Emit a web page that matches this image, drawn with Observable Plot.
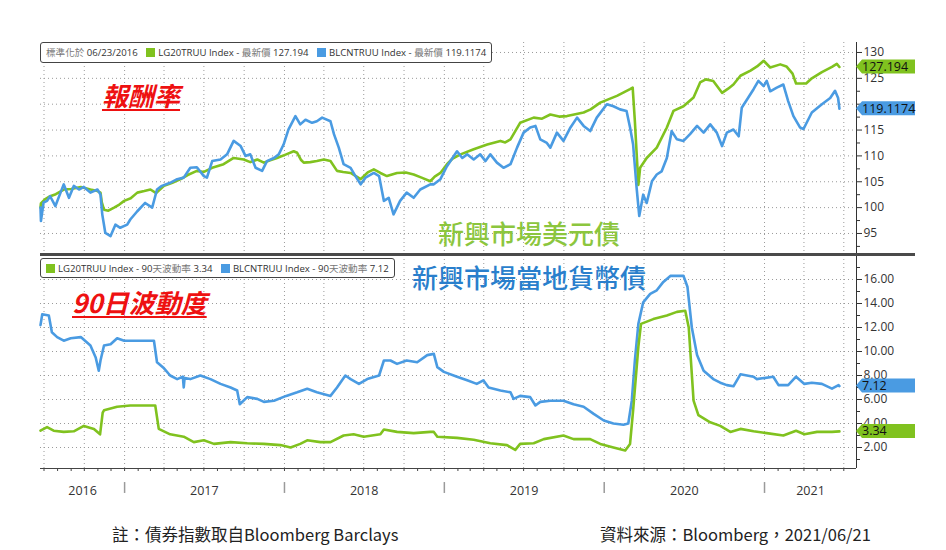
<!DOCTYPE html>
<html><head><meta charset="utf-8">
<script src="https://cdn.jsdelivr.net/npm/d3@7"></script>
<script src="https://cdn.jsdelivr.net/npm/@observablehq/plot@0.6"></script>
<style>
body{margin:0;background:#fff;}
#wrap{position:relative;width:946px;height:550px;overflow:hidden;background:#fff;font-family:"Open Sans",sans-serif;}
#wrap svg{position:absolute;left:0;}
.legend{position:absolute;background:#fff;border:1px solid #444;border-radius:3px;font-family:"Open Sans","Noto Sans CJK TC",sans-serif;font-size:9.6px;color:#333;white-space:nowrap;padding:0 5px;box-sizing:border-box;line-height:19px;z-index:3}
.sq{display:inline-block;width:9px;height:9px;margin:0 3px 0 6px;vertical-align:-1px}
.cjk{font-family:"Noto Sans CJK TC";color:#777}
.anno{position:absolute;white-space:nowrap;font-family:"Noto Sans CJK TC",sans-serif;line-height:1;z-index:2}
.red{color:#ee1111;font-style:italic;font-weight:bold;font-size:26px;text-decoration:underline;text-decoration-thickness:2px;text-underline-offset:3px}
.foot{position:absolute;white-space:nowrap;font-family:"Noto Sans CJK TC","Open Sans",sans-serif;font-size:16.5px;color:#222;line-height:20px}
#sep{position:absolute;left:40px;top:253px;width:875px;height:3px;background:#4a4a4a;z-index:4}
</style></head>
<body><div id="wrap">
<div class="legend" style="left:40px;top:42px;height:21px;"><span class="cjk">標準化於</span> 06/23/2016 <span class="sq" style="background:#80c21f"></span>LG20TRUU Index - <span class="cjk">最新價</span> 127.194 <span class="sq" style="background:#4a9be2"></span>BLCNTRUU Index - <span class="cjk">最新價</span> 119.1174</div>
<div class="legend" style="left:40px;top:258px;height:20px;"><span class="sq" style="background:#80c21f;margin-left:0"></span>LG20TRUU Index - 90<span class="cjk">天波動率</span> 3.34 <span class="sq" style="background:#4a9be2"></span>BLCNTRUU Index - 90<span class="cjk">天波動率</span> 7.12</div>
<div class="anno red" style="left:102px;top:82px;">報酬率</div>
<div class="anno red" style="left:72px;top:289px;">90日波動度</div>
<div class="anno" style="left:438px;top:220px;font-size:26px;color:#8cc63e;font-weight:500">新興市場美元債</div>
<div class="anno" style="left:412px;top:264px;font-size:26px;color:#2a7fcc;font-weight:500">新興市場當地貨幣債</div>
<div id="sep"></div>
<div class="foot" style="left:112px;top:524px;">註：債券指數取自Bloomberg Barclays</div>
<div class="foot" style="left:600px;top:524px;">資料來源：Bloomberg，2021/06/21</div>
</div>
<script>
// ---------- data ----------
const retLG20 = [
["2016-06-23",100.0],["2016-06-24",100.8],["2016-07-03",101.6],["2016-07-15",102.2],["2016-07-28",102.6],
["2016-08-15",103.5],["2016-09-01",103.6],["2016-09-23",104.0],["2016-10-15",103.5],["2016-10-31",103.2],
["2016-11-07",102.9],["2016-11-10",101.0],["2016-11-15",99.6],["2016-11-25",99.4],["2016-12-08",100.0],
["2016-12-20",100.6],["2016-12-31",101.3],["2017-01-15",101.8],["2017-01-30",102.9],["2017-02-15",103.2],
["2017-03-01",103.5],["2017-03-14",102.8],["2017-04-01",104.2],["2017-04-20",104.8],["2017-05-09",105.5],
["2017-05-25",106.3],["2017-06-15",107.1],["2017-07-01",106.9],["2017-07-20",107.7],["2017-08-15",108.4],
["2017-09-07",109.6],["2017-09-30",109.3],["2017-10-15",108.8],["2017-10-31",109.3],["2017-11-15",108.7],
["2017-12-01",109.2],["2017-12-15",109.6],["2018-01-05",110.3],["2018-01-22",110.9],["2018-01-30",110.6],
["2018-02-08",109.2],["2018-02-14",108.7],["2018-03-01",108.8],["2018-03-16",109.0],["2018-04-01",109.3],
["2018-04-16",109.0],["2018-05-01",107.1],["2018-05-15",106.9],["2018-06-01",106.7],["2018-06-24",105.5],
["2018-07-10",106.8],["2018-07-24",107.4],["2018-08-08",106.7],["2018-08-23",106.1],["2018-09-15",106.7],
["2018-10-05",106.8],["2018-10-23",106.4],["2018-11-10",105.8],["2018-11-30",105.1],["2018-12-10",106.0],
["2018-12-23",106.7],["2019-01-07",108.4],["2019-01-20",109.5],["2019-02-07",110.3],["2019-03-09",111.3],
["2019-04-09",112.2],["2019-05-09",112.9],["2019-05-20",112.6],["2019-06-01",113.2],["2019-06-23",116.4],
["2019-07-24",117.4],["2019-08-12",117.2],["2019-08-31",118.0],["2019-09-20",117.6],["2019-10-08",117.7],
["2019-11-15",118.4],["2019-12-01",119.0],["2019-12-23",120.3],["2020-01-30",121.6],["2020-02-29",122.9],
["2020-03-06",123.2],["2020-03-11",116.7],["2020-03-19",104.4],["2020-03-23",107.7],["2020-04-07",109.6],
["2020-04-30",111.6],["2020-05-23",115.5],["2020-06-07",118.7],["2020-06-30",119.6],["2020-07-23",121.3],
["2020-08-07",124.2],["2020-08-20",124.8],["2020-09-06",124.5],["2020-09-26",122.2],["2020-10-10",123.0],
["2020-10-22",123.8],["2020-11-07",125.5],["2020-11-30",126.5],["2020-12-15",127.3],["2020-12-30",128.4],
["2021-01-14",127.1],["2021-02-06",127.7],["2021-02-20",127.3],["2021-03-06",125.9],["2021-03-14",124.0],
["2021-04-06",124.0],["2021-04-19",125.0],["2021-05-12",126.2],["2021-06-04",127.2],["2021-06-15",127.8],
["2021-06-21",127.194]
];
const retBLCN = [
["2016-06-23",100.0],["2016-06-24",97.4],["2016-06-30",101.0],["2016-07-08",101.3],["2016-07-15",102.2],
["2016-07-27",100.3],["2016-08-15",104.5],["2016-08-27",101.9],["2016-09-07",104.2],["2016-09-19",103.5],
["2016-09-30",104.0],["2016-10-15",102.9],["2016-10-31",103.5],["2016-11-07",102.5],["2016-11-11",98.7],
["2016-11-18",95.1],["2016-11-30",94.5],["2016-12-11",96.7],["2016-12-22",96.1],["2017-01-07",96.7],
["2017-01-14",97.7],["2017-01-30",99.3],["2017-02-17",100.9],["2017-03-05",100.0],["2017-03-16",103.5],
["2017-03-27",104.2],["2017-04-15",104.8],["2017-05-01",105.5],["2017-05-16",105.8],["2017-05-31",107.7],
["2017-06-15",107.8],["2017-07-01",106.1],["2017-07-08",105.8],["2017-07-20",109.0],["2017-08-08",109.3],
["2017-08-23",110.3],["2017-09-07",112.9],["2017-09-23",111.9],["2017-10-04",110.0],["2017-10-15",110.3],
["2017-10-27",107.7],["2017-11-11",107.1],["2017-11-22",109.0],["2017-12-08",109.6],["2017-12-19",110.3],
["2017-12-30",112.2],["2018-01-10",115.1],["2018-01-26",117.7],["2018-02-06",116.1],["2018-02-18",117.0],
["2018-03-05",116.4],["2018-03-16",116.7],["2018-03-28",117.4],["2018-04-16",116.7],["2018-04-24",114.2],
["2018-05-05",111.6],["2018-05-16",108.4],["2018-06-01",107.7],["2018-06-12",106.1],["2018-06-24",104.5],
["2018-07-05",105.8],["2018-07-24",106.7],["2018-08-05",106.1],["2018-08-16",101.3],["2018-08-27",101.9],
["2018-09-07",98.7],["2018-09-22",101.3],["2018-10-07",102.9],["2018-10-23",101.9],["2018-11-07",103.5],
["2018-11-30",104.5],["2018-12-08",104.5],["2018-12-23",105.5],["2019-01-07",108.0],["2019-01-30",110.9],
["2019-02-11",109.6],["2019-02-22",110.3],["2019-03-09",109.3],["2019-03-24",110.3],["2019-04-05",109.0],
["2019-04-16",110.3],["2019-05-01",108.7],["2019-05-16",107.7],["2019-06-01",108.4],["2019-06-16",111.6],
["2019-07-01",114.5],["2019-07-16",115.5],["2019-07-28",115.8],["2019-08-08",113.2],["2019-08-23",112.5],
["2019-08-31",111.6],["2019-09-15",114.5],["2019-09-30",112.9],["2019-10-16",115.5],["2019-10-31",117.4],
["2019-11-15",115.8],["2019-11-30",114.8],["2019-12-15",117.4],["2020-01-07",120.0],["2020-01-22",119.6],
["2020-02-06",119.0],["2020-02-21",118.7],["2020-02-29",115.5],["2020-03-07",112.2],["2020-03-15",103.8],
["2020-03-21",98.4],["2020-03-30",102.5],["2020-04-07",100.9],["2020-04-19",105.1],["2020-04-30",106.4],
["2020-05-11",107.0],["2020-05-23",109.6],["2020-06-03",114.8],["2020-06-15",113.2],["2020-06-30",112.9],
["2020-07-15",114.2],["2020-07-31",115.8],["2020-08-15",114.5],["2020-08-30",116.1],["2020-09-14",114.5],
["2020-09-26",111.9],["2020-10-07",114.5],["2020-10-22",115.1],["2020-11-03",113.8],["2020-11-10",119.3],
["2020-11-25",121.3],["2020-12-07",122.9],["2020-12-18",124.5],["2020-12-30",123.5],["2021-01-06",124.5],
["2021-01-14",122.5],["2021-01-29",123.2],["2021-02-13",123.8],["2021-02-24",120.6],["2021-03-08",117.7],
["2021-03-23",115.5],["2021-03-31",115.2],["2021-04-19",118.4],["2021-05-12",120.0],["2021-05-31",121.2],
["2021-06-11",122.6],["2021-06-18",121.2],["2021-06-21",119.1174]
];
const volLG20 = [
["2016-06-23",3.4],["2016-07-08",3.7],["2016-07-23",3.4],["2016-08-15",3.3],["2016-09-07",3.35],
["2016-09-30",3.8],["2016-10-23",3.55],["2016-11-06",3.1],["2016-11-12",4.9],["2016-11-15",5.1],
["2016-12-15",5.4],["2017-01-14",5.5],["2017-02-14",5.5],["2017-03-12",5.5],["2017-03-20",3.55],
["2017-04-15",3.1],["2017-05-16",2.9],["2017-06-08",2.45],["2017-07-01",2.6],["2017-07-24",2.3],
["2017-08-31",2.45],["2017-10-08",2.35],["2017-11-15",2.3],["2017-12-23",2.2],["2018-01-15",2.0],
["2018-02-06",2.3],["2018-02-22",2.6],["2018-03-24",2.45],["2018-04-16",2.45],["2018-05-16",3.0],
["2018-06-08",3.1],["2018-07-01",2.9],["2018-08-08",3.1],["2018-08-16",3.5],["2018-09-15",3.3],
["2018-10-23",3.2],["2018-11-30",3.3],["2018-12-08",3.3],["2018-12-16",2.9],["2019-01-30",2.8],
["2019-03-09",2.65],["2019-04-16",2.35],["2019-05-24",2.2],["2019-06-12",1.8],["2019-06-23",2.3],
["2019-07-24",2.35],["2019-08-16",2.7],["2019-09-30",3.0],["2019-10-23",2.7],["2019-11-30",2.7],
["2019-12-23",2.3],["2020-01-22",2.0],["2020-02-18",1.75],["2020-02-29",2.3],["2020-03-07",5.1],
["2020-03-19",10.4],["2020-03-25",12.3],["2020-04-22",12.7],["2020-05-23",13.0],["2020-06-15",13.3],
["2020-07-04",13.4],["2020-07-12",12.0],["2020-07-23",5.9],["2020-08-03",4.7],["2020-08-30",4.1],
["2020-09-22",3.8],["2020-10-15",3.3],["2020-11-07",3.55],["2020-12-07",3.35],["2021-01-06",3.2],
["2021-02-13",3.0],["2021-03-14",3.4],["2021-04-02",3.1],["2021-05-01",3.3],["2021-06-04",3.3],
["2021-06-21",3.34]
];
const volBLCN = [
["2016-06-23",12.2],["2016-06-27",13.1],["2016-07-12",13.0],["2016-07-19",11.6],["2016-07-31",11.2],
["2016-08-15",10.9],["2016-08-31",11.1],["2016-09-23",11.2],["2016-10-15",10.5],["2016-10-27",9.5],
["2016-11-03",8.4],["2016-11-07",9.25],["2016-11-15",10.5],["2016-11-30",10.6],["2016-12-15",11.1],
["2016-12-31",10.9],["2017-01-14",10.9],["2017-02-06",10.9],["2017-03-09",10.9],["2017-03-16",9.1],
["2017-04-01",8.6],["2017-04-15",8.0],["2017-05-01",7.7],["2017-05-14",7.9],["2017-05-16",7.0],
["2017-05-18",7.8],["2017-05-31",7.7],["2017-06-23",8.0],["2017-07-16",7.7],["2017-08-08",7.3],
["2017-08-31",7.0],["2017-09-15",6.75],["2017-09-21",5.6],["2017-10-08",6.2],["2017-10-31",6.05],
["2017-11-15",5.8],["2017-12-08",5.9],["2018-01-05",6.3],["2018-01-30",6.6],["2018-02-22",6.9],
["2018-03-16",6.6],["2018-04-16",6.3],["2018-05-01",7.0],["2018-05-20",8.0],["2018-06-01",7.7],
["2018-06-20",7.3],["2018-07-09",7.7],["2018-08-05",8.0],["2018-08-16",9.25],["2018-08-31",9.25],
["2018-09-15",8.97],["2018-10-07",9.25],["2018-10-31",9.1],["2018-11-23",9.7],["2018-12-08",9.8],
["2018-12-16",8.7],["2018-12-31",8.3],["2019-01-30",7.9],["2019-02-22",7.6],["2019-03-16",7.3],
["2019-03-31",7.6],["2019-04-12",7.0],["2019-05-09",6.75],["2019-06-01",6.6],["2019-06-08",6.05],
["2019-06-23",6.3],["2019-07-16",6.2],["2019-07-28",5.5],["2019-08-08",5.8],["2019-08-31",5.9],
["2019-09-30",5.9],["2019-10-23",5.6],["2019-11-15",5.4],["2019-12-08",4.8],["2019-12-31",4.25],
["2020-01-22",4.0],["2020-02-14",3.9],["2020-02-25",4.0],["2020-03-04",5.9],["2020-03-11",9.25],
["2020-03-19",12.3],["2020-03-30",14.1],["2020-04-15",14.8],["2020-04-30",15.1],["2020-05-15",15.8],
["2020-05-31",16.3],["2020-06-15",16.3],["2020-06-30",16.3],["2020-07-09",15.4],["2020-07-19",12.0],
["2020-07-31",9.7],["2020-08-15",8.4],["2020-09-06",7.7],["2020-09-22",7.4],["2020-10-07",7.2],
["2020-10-22",7.1],["2020-11-07",8.1],["2020-11-22",8.0],["2020-12-07",7.9],["2020-12-14",7.7],
["2021-01-21",7.9],["2021-02-02",7.2],["2021-02-24",7.2],["2021-03-14",7.9],["2021-04-02",7.3],
["2021-04-19",7.4],["2021-05-12",7.3],["2021-06-04",6.9],["2021-06-19",7.2],["2021-06-21",7.12]
];
const topTicks = [95,100,105,110,115,120,125,130];
const topMinor = [92.5,97.5,102.5,107.5,112.5,117.5,122.5,127.5];
const botTicks = [2,4,6,8,10,12,14,16];
const botMinor = [1,3,5,7,9,11,13,15,17];
const yearLabels = ["2016","2017","2018","2019","2020","2021"];
const yearLabelDates = ["2016-09-27","2017-07-02","2018-07-02","2019-07-02","2020-07-02","2021-04-16"];
const yearStarts = ["2017-01-01","2018-01-01","2019-01-01","2020-01-01","2021-01-01"];
const lastValues = {ret:[127.194,119.1174], vol:[3.34,7.12]};
const hiddenTopLabels = [120]; // covered by the value tag in the reference

// ---------- build ----------
const parse = d3.utcParse("%Y-%m-%d");
const rows = a => a.map(([d,v]) => ({date: parse(d), value: v}));
const GREEN = "#80c21f", BLUE = "#4a9be2";
const xDomain = [parse("2016-06-23"), parse("2021-07-30")];
const quarters = d3.utcMonth.every(3).range(parse("2016-07-01"), parse("2021-07-02"));
const months = d3.utcMonth.range(parse("2016-07-01"), parse("2021-08-01"));
const gridStyle = {stroke:"#9a9a9a", strokeWidth:1, strokeDasharray:"1,3"};
const common = {width:946, height:255, marginLeft:40, marginRight:90,
  style:{fontFamily:"Open Sans, sans-serif", fontSize:"12px", color:"#333", background:"transparent", overflow:"visible"}};

const topPlot = Plot.plot({
  ...common, marginTop:42, marginBottom:0,
  x:{type:"utc", domain:xDomain, axis:null},
  y:{domain:[90.74,131.93], axis:null},
  marks:[
    Plot.ruleX(quarters, gridStyle),
    Plot.ruleY(topTicks, gridStyle),
    Plot.line(rows(retLG20), {x:"date", y:"value", stroke:GREEN, strokeWidth:2.6}),
    Plot.line(rows(retBLCN), {x:"date", y:"value", stroke:BLUE, strokeWidth:2.6}),
    Plot.ruleX([xDomain[1]], {stroke:"#333", strokeWidth:1}),
    Plot.axisY({anchor:"right", ticks:topMinor, tickSize:3, tickFormat:()=>"", label:null, stroke:"#333"}),
    Plot.axisY({anchor:"right", ticks:topTicks, tickSize:5, tickPadding:2, tickFormat:d=>hiddenTopLabels.includes(d) ? "" : String(d), label:null, fontSize:12, fill:"#333"})
  ]
});
const botPlot = Plot.plot({
  ...common, marginTop:0, marginBottom:42,
  x:{type:"utc", domain:xDomain, axis:null},
  y:{domain:[0.25,18], axis:null},
  marks:[
    Plot.ruleX(quarters, gridStyle),
    Plot.ruleY(botTicks, gridStyle),
    Plot.line(rows(volBLCN), {x:"date", y:"value", stroke:BLUE, strokeWidth:2.6}),
    Plot.line(rows(volLG20), {x:"date", y:"value", stroke:GREEN, strokeWidth:2.6}),
    Plot.ruleX([xDomain[1]], {stroke:"#333", strokeWidth:1}),
    Plot.ruleY([0.25], {stroke:"#444", strokeWidth:1}),
    Plot.axisX({anchor:"bottom", ticks:months, tickSize:3, tickFormat:()=>"", label:null, stroke:"#444"}),
    Plot.ruleX(yearStarts.map(parse), {y1:-0.92, y2:-1.83, stroke:"#9a9a9a", strokeWidth:1.5}),
    Plot.text(yearLabels, {x:(d,i)=>parse(yearLabelDates[i]), text:d=>d, frameAnchor:"bottom", dy:22, lineAnchor:"middle", fontSize:12.5, fill:"#333"}),
    Plot.axisY({anchor:"right", ticks:botMinor, tickSize:3, tickFormat:()=>"", label:null, stroke:"#333"}),
    Plot.axisY({anchor:"right", ticks:botTicks, tickSize:5, tickPadding:2, tickFormat:d=>d.toFixed(2), label:null, fontSize:12, fill:"#333"})
  ]
});
topPlot.style.top = "0px";
botPlot.style.top = "255px";
const wrap = document.getElementById("wrap");
wrap.appendChild(topPlot);
wrap.appendChild(botPlot);

function addTag(plot, value, label, fill) {
  const y = plot.scale("y").apply(value);
  const x0 = plot.scale("x").apply(xDomain[1]);
  const g = d3.select(plot).append("g");
  g.append("path").attr("d", `M${x0},${y} L${x0+6},${y-7} L915,${y-7} L915,${y+7} L${x0+6},${y+7} Z`).attr("fill", fill);
  g.append("text").attr("x", x0+6).attr("y", y).attr("dy","0.35em").attr("font-size", 12.5)
    .attr("text-anchor","start")
    .attr("font-family","Open Sans, sans-serif").attr("fill","#111").text(label);
}
addTag(topPlot, lastValues.ret[0], "127.194", GREEN);
addTag(topPlot, lastValues.ret[1], "119.1174", BLUE);
addTag(botPlot, lastValues.vol[1], "7.12", BLUE);
addTag(botPlot, lastValues.vol[0], "3.34", GREEN);
</script></body></html>
